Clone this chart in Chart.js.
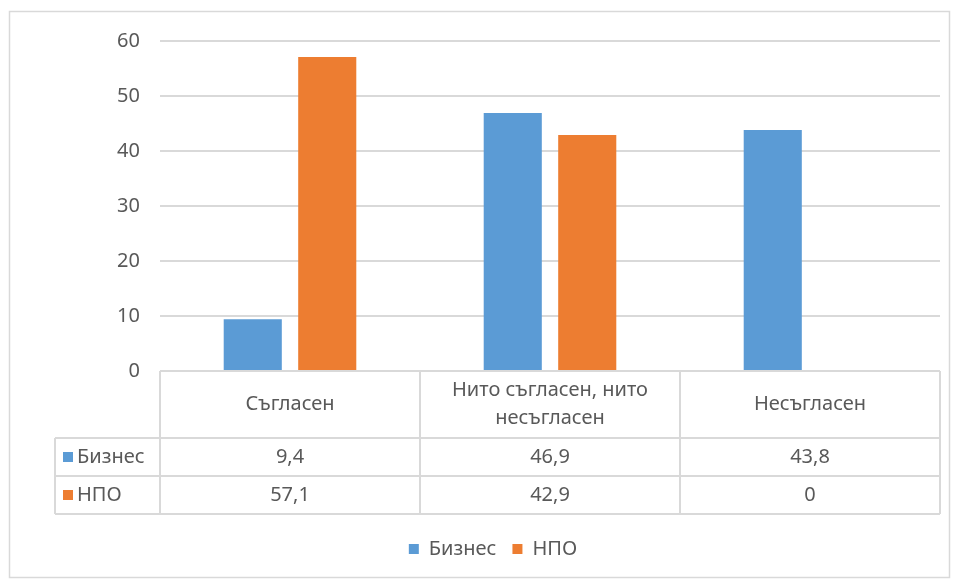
<!DOCTYPE html>
<html>
<head>
<meta charset="utf-8">
<script src="https://cdn.jsdelivr.net/npm/chart.js@4"></script>
<style>
  html, body { margin: 0; padding: 0; background: #fff; }
  #grafico { display: block; }
</style>
</head>
<body>
<canvas id="grafico" width="954" height="581"></canvas>
<script>
var categorias = ['Съгласен', ['Нито съгласен, нито', 'несъгласен'], 'Несъгласен'];
var serieNomes = ['Бизнес', 'НПО'];
var biznes = [9.4, 46.9, 43.8];
var npo = [57.1, 42.9, 0];
var yTicks = [0, 10, 20, 30, 40, 50, 60];

var corAzul = '#5B9BD5';
var corLaranja = '#ED7D31';
var corTexto = '#595959';
var corLinha = '#d9d9d9';
var fonte = '"Noto Sans", "Open Sans", sans-serif';
var tamFonte = 20;

function fmt(v) {
    return String(v).replace('.', ',');
}

// desenha moldura e tabela de dados abaixo do gráfico
var tabelaPlugin = {
    id: 'tabela',
    beforeDraw: function (chart) {
        var c = chart.ctx;
        c.save();
        c.strokeStyle = corLinha;
        c.lineWidth = 1.5;
        c.strokeRect(9.5, 11.5, 940, 566);
        c.restore();
    },
    afterDraw: function (chart) {
        var c = chart.ctx;
        var area = chart.chartArea;
        var x = chart.scales.x;
        var n = categorias.length;
        var larg = (area.right - area.left) / n;
        var topo = area.bottom;
        var yCab = topo + 67;
        var yL1 = yCab + 38;
        var yL2 = yL1 + 38;
        var esq = 55;

        c.save();
        c.strokeStyle = corLinha;
        c.lineWidth = 2;
        c.beginPath();
        c.moveTo(area.left, topo); c.lineTo(area.right, topo);
        [yCab, yL1, yL2].forEach(function (y) {
            c.moveTo(esq, y); c.lineTo(area.right, y);
        });
        for (var i = 0; i <= n; i++) {
            var xx = area.left + i * larg;
            c.moveTo(xx, topo); c.lineTo(xx, yL2);
        }
        c.moveTo(esq, yCab); c.lineTo(esq, yL2);
        c.stroke();

        c.fillStyle = corTexto;
        c.font = tamFonte + 'px ' + fonte;
        c.textAlign = 'center';
        c.textBaseline = 'middle';
        categorias.forEach(function (cat, i) {
            var cx = x.getPixelForValue(i);
            var linhas = Array.isArray(cat) ? cat : [cat];
            var meio = (topo + yCab) / 2;
            var lh = 28;
            linhas.forEach(function (l, k) {
                c.fillText(l, cx, meio + (k - (linhas.length - 1) / 2) * lh);
            });
            c.fillText(fmt(biznes[i]), cx, (yCab + yL1) / 2);
            c.fillText(fmt(npo[i]), cx, (yL1 + yL2) / 2);
        });

        var cores = [corAzul, corLaranja];
        var ys = [(yCab + yL1) / 2, (yL1 + yL2) / 2];
        c.textAlign = 'left';
        serieNomes.forEach(function (nome, k) {
            c.fillStyle = cores[k];
            c.fillRect(63, ys[k] - 5, 10, 10);
            c.fillStyle = corTexto;
            c.fillText(nome, 77, ys[k]);
        });
        c.restore();
    }
};

var ctx = document.getElementById('grafico').getContext('2d');
var grafico = new Chart(ctx, {
    type: 'bar',
    data: {
        labels: categorias,
        datasets: [
            {
                label: serieNomes[0],
                data: biznes,
                backgroundColor: corAzul,
                categoryPercentage: 0.573,
                barPercentage: 0.78
            },
            {
                label: serieNomes[1],
                data: npo,
                backgroundColor: corLaranja,
                categoryPercentage: 0.573,
                barPercentage: 0.78
            }
        ]
    },
    options: {
        responsive: false,
        animation: false,
        layout: {
            padding: { top: 41, left: 46, right: 14, bottom: 12 }
        },
        plugins: {
            tooltip: { enabled: false },
            legend: {
                position: 'bottom',
                labels: {
                    boxWidth: 10,
                    boxHeight: 10,
                    padding: 16,
                    color: corTexto,
                    font: { family: fonte, size: tamFonte }
                }
            }
        },
        scales: {
            x: {
                grid: { display: false },
                border: { display: false },
                ticks: { display: false },
                afterFit: function (s) { s.height = 152; }
            },
            y: {
                min: yTicks[0],
                max: yTicks[yTicks.length - 1],
                afterBuildTicks: function (s) {
                    s.ticks = yTicks.map(function (v) { return { value: v }; });
                },
                grid: { color: corLinha, lineWidth: 2, drawTicks: false },
                border: { display: false },
                ticks: {
                    color: corTexto,
                    padding: 20,
                    font: { family: fonte, size: tamFonte }
                },
                afterFit: function (s) { s.width = 114; }
            }
        }
    },
    plugins: [tabelaPlugin]
});
</script>
</body>
</html>
